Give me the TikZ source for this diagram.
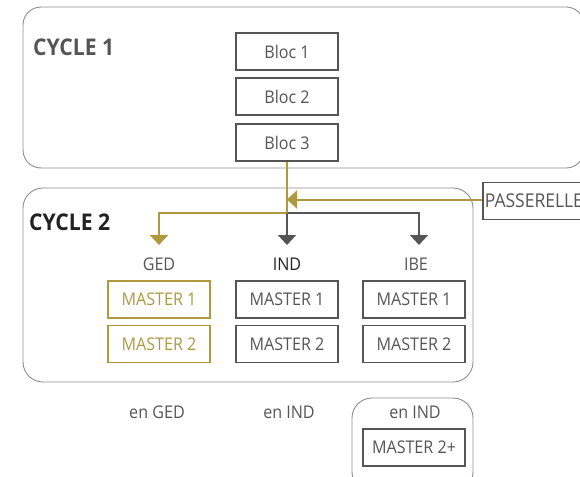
\documentclass[tikz,border=0pt]{standalone}
\usepackage{fontspec}
\setmainfont{Open Sans}[FakeStretch=0.92]
\usetikzlibrary{arrows.meta}
\definecolor{gold}{RGB}{176,152,62}
\definecolor{ink}{RGB}{85,85,85}
\definecolor{darkink}{RGB}{34,34,34}
\definecolor{frame}{RGB}{140,140,140}
\tikzset{
  txt/.style={font=\fontsize{17.5}{20}\selectfont, text=ink, inner sep=0pt},
  box/.style={txt, draw=ink, line width=1.8pt, minimum width=102pt, minimum height=37pt},
  goldbox/.style={box, draw=gold, text=gold},
  title/.style={font=\bfseries\fontsize{23}{26}\selectfont, inner sep=0pt, anchor=west},
  group/.style={draw=frame, line width=0.9pt},
  goldline/.style={draw=gold, line width=2pt},
  grayline/.style={draw=ink, line width=2pt},
  tip/.style={-{Triangle[width=18pt,length=10pt]}},
}
\begin{document}
\begin{tikzpicture}[x=1pt,y=-1pt]
\useasboundingbox (0,0) rectangle (580,476);
\clip (0,0) rectangle (580,476);

% group frames
\draw[group, rounded corners=18pt] (23,7) rectangle (584,168);
\draw[group, rounded corners=20pt] (23,188) rectangle (473,382);
\draw[group, rounded corners=20pt] (352,398) rectangle (473,492);

% titles
\node[title, text=ink] (c1) at (33,47) {CYCLE 1};
\node[title, text=darkink] (c2) at (29,222) {CYCLE 2};

% cycle 1 blocks
\node[box] (b1) at (287,51.5) {Bloc 1};
\node[box] (b2) at (287,96.5) {Bloc 2};
\node[box] (b3) at (287,142.5) {Bloc 3};

% bridge box
\node[box, anchor=west, text width=120pt, align=left, inner xsep=2pt,
      font=\fontsize{19}{22}\selectfont] (pass) at (482,201) {PASSERELLE};

% track labels
\node[txt] (ged) at (159,264) {GED};
\node[txt, text=darkink] (ind) at (287,264) {IND};
\node[txt] (ibe) at (416,264) {IBE};

% masters
\node[goldbox] (g1) at (159,299.5) {MASTER 1};
\node[goldbox] (g2) at (159,344) {MASTER 2};
\node[box] (i1) at (287,299.5) {MASTER 1};
\node[box] (i2) at (287,344) {MASTER 2};
\node[box] (e1) at (414,299.5) {MASTER 1};
\node[box] (e2) at (414,344) {MASTER 2};

% outcomes
\node[txt] (oged) at (157,412) {en GED};
\node[txt] (oind) at (289,412) {en IND};
\node[txt] (oibe) at (415,412) {en IND};
\node[box] (m2p) at (414,447.5) {MASTER 2+};

% connectors
\coordinate (j) at (287,213);
\coordinate (pj) at (287,199.5);
\coordinate (tged) at (159,245);
\coordinate (tind) at (287,245);
\coordinate (tibe) at (419,245);
\draw[grayline, tip] (j) -- (tind);
\draw[grayline, tip] (j) -| (tibe);
\draw[goldline] (b3.south) -- (j);
\draw[goldline, tip] (j) -| (tged);
\draw[goldline, tip] (pass.west |- pj) -- (pj);
\end{tikzpicture}
\end{document}
